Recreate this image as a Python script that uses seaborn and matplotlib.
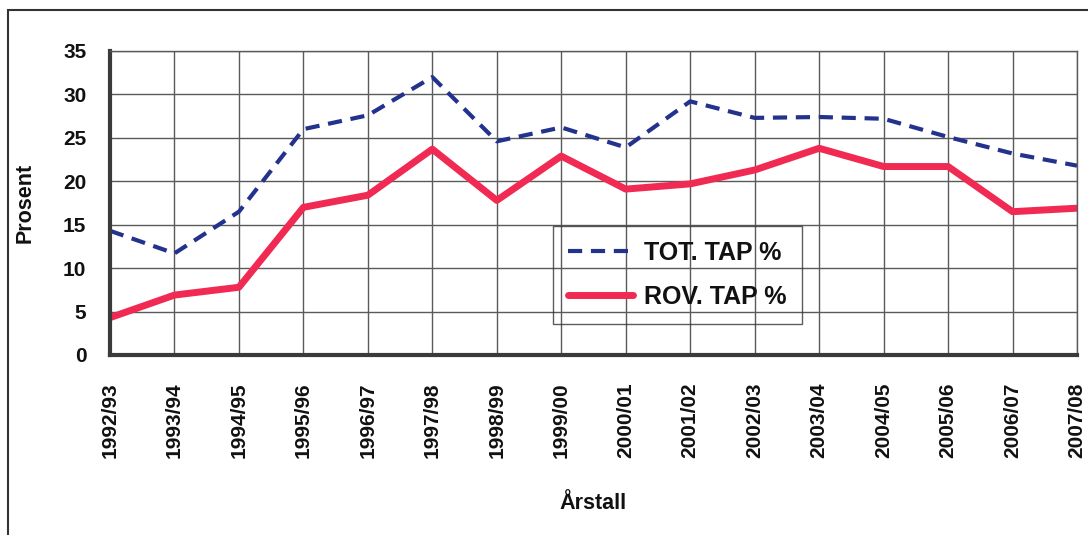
import numpy as np
import pandas as pd
import matplotlib
matplotlib.use("Agg")
import matplotlib.pyplot as plt
from matplotlib.patches import Rectangle
import seaborn as sns

# ------------------------------------------
# Data
# ------------------------------------------

seasons = ["1992/93", "1993/94", "1994/95", "1995/96", "1996/97", "1997/98",
           "1998/99", "1999/00", "2000/01", "2001/02", "2002/03", "2003/04",
           "2004/05", "2005/06", "2006/07", "2007/08"]

tot_tap = [14.3, 11.7, 16.5, 26.0, 27.6, 32.0, 24.6, 26.2,
           23.9, 29.2, 27.3, 27.4, 27.2, 25.1, 23.2, 21.8]

rov_tap = [4.3, 6.9, 7.8, 17.0, 18.4, 23.7, 17.8, 22.9,
           19.1, 19.7, 21.3, 23.8, 21.7, 21.7, 16.5, 16.9]

y_ticks = [0, 5, 10, 15, 20, 25, 30, 35]

# ------------------------------------------
# Style
# ------------------------------------------

sns.set_style("white")
plt.rcParams['font.family'] = ['Liberation Sans', 'DejaVu Sans']
plt.rcParams['font.weight'] = 'bold'
plt.rcParams['text.color'] = '#111111'
plt.rcParams['axes.labelcolor'] = '#111111'
plt.rcParams['xtick.color'] = '#111111'
plt.rcParams['ytick.color'] = '#111111'

fig = plt.figure(figsize=(10.88, 5.35), dpi=100)
ax = fig.add_axes([110 / 1088, 1 - 355 / 535, 967 / 1088, 304 / 535])

# ------------------------------------------
# Lines
# ------------------------------------------

sns.lineplot(x=seasons, y=tot_tap, ax=ax, color='#23328C', linewidth=3.0,
             label='TOT. TAP %', sort=False)
ax.lines[-1].set_dashes([3.4, 2.1])

sns.lineplot(x=seasons, y=rov_tap, ax=ax, color='#F02A52', linewidth=5.0,
             label='ROV. TAP %', sort=False)

# ------------------------------------------
# Axes formatting
# ------------------------------------------

ax.set_xlim(0, len(seasons) - 1)
ax.set_ylim(0, 35)
ax.set_yticks(y_ticks)
ax.set_xticks(range(len(seasons)))
ax.set_xticklabels(seasons, rotation=90, fontsize=15, fontweight='bold')
ax.set_yticklabels([str(t) for t in y_ticks], fontsize=15, fontweight='bold')

ax.grid(True, color='#5a5a5a', linewidth=1.0)
ax.set_axisbelow(True)

for side in ['left', 'bottom']:
    ax.spines[side].set_linewidth(3)
    ax.spines[side].set_color('#3a3a3a')
for side in ['top', 'right']:
    ax.spines[side].set_linewidth(1)
    ax.spines[side].set_color('#5a5a5a')

ax.tick_params(axis='y', length=5, width=2, color='#3a3a3a', pad=12)
ax.tick_params(axis='x', length=5, width=2, color='#3a3a3a', pad=15)

ax.set_ylabel("Prosent", fontsize=15.5, fontweight='bold')
ax.yaxis.set_label_coords(-0.077, 0.5)
ax.set_xlabel("Årstall", fontsize=15.5, fontweight='bold')
ax.xaxis.set_label_coords(0.5, -0.455)

leg = ax.legend(loc='upper left', bbox_to_anchor=(0.458, 0.424),
                fontsize=18, frameon=True, fancybox=False,
                edgecolor='#333333', handlelength=2.6, handletextpad=0.45,
                labelspacing=0.8, borderpad=0.6, borderaxespad=0)
leg.get_frame().set_facecolor('none')
leg.get_frame().set_linewidth(1.0)
for txt in leg.get_texts():
    txt.set_fontweight('bold')

# ------------------------------------------
# Outer frame
# ------------------------------------------

fig.patches.append(Rectangle((8 / 1088, -0.2), 1.2, 1.2 - 10 / 535,
                             transform=fig.transFigure, fill=False,
                             edgecolor='#333333', linewidth=1.5))

plt.savefig("out.png", dpi=100)
